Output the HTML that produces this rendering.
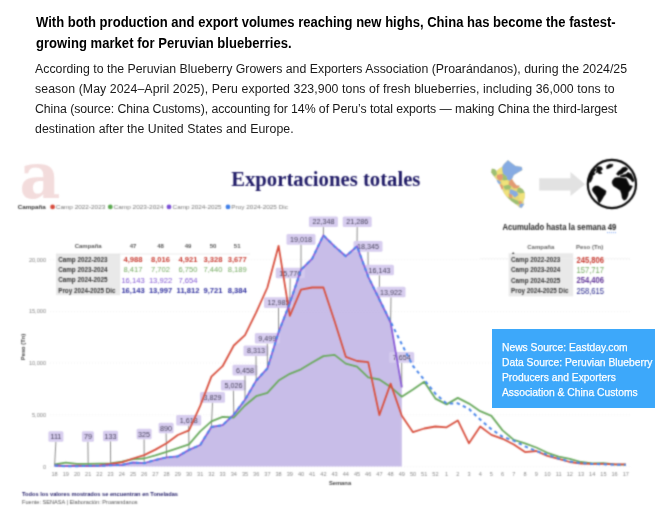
<!DOCTYPE html>
<html lang="en"><head><meta charset="utf-8"><title>Peruvian blueberries</title>
<style>
html,body{margin:0;padding:0;background:#fff;}
body{width:655px;height:523px;position:relative;overflow:hidden;font-family:"Liberation Sans",sans-serif;}
.h{position:absolute;left:36.2px;top:12.3px;margin:0;font-size:14px;font-weight:bold;line-height:20.45px;color:#000;white-space:nowrap;transform-origin:0 0;transform:scaleX(0.930);}
.p{position:absolute;left:35px;top:59.2px;margin:0;font-size:12.3px;line-height:20px;color:#1a1a1a;white-space:nowrap;}
#chart{position:absolute;left:0;top:0;}
.box{position:absolute;left:492px;top:328.8px;width:163px;height:78.8px;background:#3da8fa;color:#fff;}
.box p{position:absolute;left:10.4px;top:10.9px;margin:0;font-size:11px;line-height:15.05px;white-space:nowrap;transform-origin:0 0;transform:scaleX(0.936);-webkit-text-stroke:0.25px #fff;}
</style></head><body>
<p class="h"><span style="letter-spacing:0.012px">With both production and export volumes reaching new highs, China has become the fastest-</span><br><span style="letter-spacing:0.045px">growing market for Peruvian blueberries.</span></p>
<p class="p"><span style="letter-spacing:0.014px">According to the Peruvian Blueberry Growers and Exporters Association (Proarándanos), during the 2024/25</span><br><span style="letter-spacing:0.08px">season (May 2024–April 2025), Peru exported 323,900 tons of fresh blueberries, including 36,000 tons to</span><br><span style="letter-spacing:-0.064px">China (source: China Customs), accounting for 14% of Peru’s total exports — making China the third-largest</span><br><span style="letter-spacing:0.064px">destination after the United States and Europe.</span></p>
<svg id="chart" width="655" height="523" viewBox="0 0 655 523" font-family="Liberation Sans, sans-serif">
<defs><filter id="bl" x="0" y="140" width="655" height="383" filterUnits="userSpaceOnUse" color-interpolation-filters="sRGB"><feConvolveMatrix order="5" kernelMatrix="0.00014 0.00247 0.00648 0.00247 0.00014 0.00247 0.04462 0.11705 0.04462 0.00247 0.00648 0.11705 0.30708 0.11705 0.00648 0.00247 0.04462 0.11705 0.04462 0.00247 0.00014 0.00247 0.00648 0.00247 0.00014" edgeMode="duplicate" preserveAlpha="false"/></filter></defs>
<g filter="url(#bl)">
<text x="19.6" y="197.6" font-family="DejaVu Serif, serif" font-weight="bold" font-size="63" fill="#f3dcdc">a</text>
<text x="231.2" y="185.6" font-family="Liberation Serif, serif" font-weight="bold" font-size="20" fill="#1f1a66" textLength="189.2" lengthAdjust="spacingAndGlyphs">Exportaciones totales</text>
<g><polygon points="507.9,160.2 511.4,163.0 515.4,165.9 521.7,167.0 522.3,169.9 518.3,172.2 513.7,175.1 511.9,179.1 513.7,181.9 516.5,185.4 519.4,185.7 520.0,187.7 522.8,189.4 524.6,192.8 524.6,197.4 523.4,200.9 524.0,204.3 521.7,207.8 519.4,207.2 516.0,204.3 511.4,200.9 506.8,196.9 503.3,191.7 500.5,186.0 497.6,180.8 494.2,176.8 491.3,172.2 491.9,168.8 494.7,169.3 496.5,171.1 499.3,168.8 502.2,167.0 503.9,164.2 506.2,161.9" fill="#e6d877" stroke="#d9d9d9" stroke-width="0.6"/><polygon points="507.9,160.2 511.4,163.0 515.4,165.9 521.7,167.0 522.3,169.9 518.3,172.2 513.7,175.1 511.9,179.1 509.7,180.8 507.4,179.7 506.2,176.2 503.3,173.9 502.2,169.9 502.2,167.0 503.9,164.2 506.2,161.9" fill="#86abe2"/><polygon points="491.3,172.2 491.9,168.8 494.7,169.3 496.5,171.1 497.0,173.9 494.7,176.2 493.0,175.1" fill="#9dbf72"/><polygon points="496.5,171.1 499.3,168.8 502.2,167.0 502.2,169.9 501.6,173.9 498.8,175.1 497.0,173.9" fill="#f0e27a"/><polygon points="497.0,175.1 501.6,173.9 503.3,176.2 502.2,179.7 499.3,180.8 497.0,177.9" fill="#e39a72"/><polygon points="501.6,173.9 503.3,173.9 506.2,176.2 507.4,179.7 504.5,180.8 502.2,179.7 503.3,176.2" fill="#9dbf72"/><polygon points="496.5,179.7 499.3,180.8 501.1,183.1 499.3,184.2 497.6,182.5" fill="#86abe2"/><polygon points="509.7,180.8 511.9,179.1 513.7,181.9 516.5,185.4 519.4,185.7 517.7,188.3 513.7,188.3 511.4,186.0 508.5,184.8" fill="#e39a72"/><polygon points="502.2,180.8 507.4,180.2 508.5,184.8 505.6,186.5 502.2,184.8" fill="#f0e27a"/><polygon points="499.3,184.2 502.2,184.8 503.3,188.3 501.6,189.4 500.5,186.5" fill="#e39a72"/><polygon points="503.3,186.0 508.5,184.8 511.4,186.5 509.7,189.4 505.1,189.4" fill="#9dbf72"/><polygon points="517.7,188.3 520.0,187.7 522.8,189.4 524.6,192.8 520.6,193.4 517.1,191.7" fill="#9dbf72"/><polygon points="511.4,189.4 517.1,191.7 518.3,195.1 514.8,197.4 511.9,194.6" fill="#86abe2"/><polygon points="520.6,193.4 524.6,192.8 524.6,197.4 523.4,200.9 520.0,200.3 518.8,196.3" fill="#f0e27a"/><polygon points="503.3,191.7 507.9,190.6 509.7,194.0 507.4,196.9 505.1,194.6" fill="#f0e27a"/><polygon points="508.5,193.4 511.9,194.6 512.5,198.0 509.7,198.6" fill="#e39a72"/><polygon points="507.4,196.9 512.5,198.6 518.3,200.9 519.4,204.3 516.0,204.3 511.4,200.9" fill="#9dbf72"/><polygon points="519.4,204.3 521.7,203.2 524.0,204.3 521.7,207.8 519.4,207.2" fill="#86abe2"/><polygon points="518.3,200.9 521.7,201.4 521.7,203.2 519.4,204.3" fill="#e39a72"/><polygon points="509.7,189.4 511.9,189.4 511.9,194.6 509.7,194.0" fill="#86abe2"/></g>
<polygon points="539.2,178.2 570.5,178.2 570.5,172.1 585.1,184.3 570.5,196 570.5,190.4 539.2,190.4" fill="#e2e2e2"/>
<g><circle cx="611.9" cy="184" r="24.1" fill="#fff" stroke="#0a0a0a" stroke-width="2.2"/><path d="M592.9 187.7 L595.2 186.0 L598.1 186.0 L600.9 187.7 L603.8 189.4 L606.1 191.1 L605.5 194.0 L603.8 196.3 L602.1 199.2 L600.4 202.0 L599.2 203.2 L598.1 200.9 L597.5 198.0 L595.8 195.2 L593.5 192.3 L592.3 190.0Z M612.4 180.8 L614.7 177.9 L618.7 177.4 L622.2 177.9 L626.2 178.5 L627.9 182.0 L629.6 185.4 L632.5 186.0 L630.8 189.4 L628.5 192.3 L627.9 195.7 L626.2 199.2 L623.9 200.3 L622.2 198.0 L621.6 194.0 L620.4 190.6 L616.4 187.7 L613.5 186.0 L612.1 183.1Z M588.9 179.7 L590.0 175.6 L591.8 172.2 L594.6 168.8 L596.3 169.3 L594.0 172.2 L595.2 173.9 L592.9 175.6 L592.3 178.5 L590.6 182.0 L589.5 182.5Z M596.3 167.6 L598.1 166.5 L601.5 167.0 L602.6 169.3 L600.4 171.1 L602.1 173.4 L599.2 173.9 L597.5 172.2 L595.8 172.8 L596.9 169.9Z M606.7 165.9 L609.5 164.2 L613.0 164.4 L612.4 166.5 L609.0 168.2 L606.7 168.8Z M616.4 173.9 L618.1 171.6 L620.4 169.9 L622.7 167.6 L625.6 167.0 L627.9 168.8 L626.2 171.1 L623.9 172.2 L622.2 173.9 L619.9 174.5 L618.1 175.6Z M619.9 175.9 L623.3 174.7 L626.2 173.9 L627.9 172.2 L631.3 173.9 L633.0 177.4 L634.2 180.8 L632.5 182.0 L630.8 179.7 L628.5 177.9 L626.2 176.8 L623.3 177.0 L621.0 176.8Z" fill="#0a0a0a" stroke="#0a0a0a" stroke-width="0.5" stroke-linejoin="round"/></g>
<text x="17.8" y="209" font-size="5.8" font-weight="bold" fill="#333" textLength="28" lengthAdjust="spacingAndGlyphs">Campaña</text><circle cx="52.6" cy="206.9" r="2.4" fill="#d64a3b"/><text x="55.8" y="209" font-size="5.8" fill="#777" textLength="49.5" lengthAdjust="spacingAndGlyphs">Camp 2022-2023</text><circle cx="110.3" cy="206.9" r="2.4" fill="#5aa84f"/><text x="113.5" y="209" font-size="5.8" fill="#777" textLength="50" lengthAdjust="spacingAndGlyphs">Camp 2023-2024</text><circle cx="169" cy="206.9" r="2.4" fill="#7b4fd6"/><text x="172.6" y="209" font-size="5.8" fill="#777" textLength="49" lengthAdjust="spacingAndGlyphs">Camp 2024-2025</text><circle cx="228" cy="206.9" r="2.4" fill="#3f7fe8"/><text x="231.3" y="209" font-size="5.8" fill="#777" textLength="56.7" lengthAdjust="spacingAndGlyphs">Proy 2024-2025 Dic</text>
<line x1="50" x2="632" y1="466.6" y2="466.6" stroke="#ececec" stroke-width="0.7" stroke-dasharray="1 2"/><line x1="50" x2="632" y1="414.9" y2="414.9" stroke="#ececec" stroke-width="0.7" stroke-dasharray="1 2"/><line x1="50" x2="632" y1="363.1" y2="363.1" stroke="#ececec" stroke-width="0.7" stroke-dasharray="1 2"/><line x1="50" x2="632" y1="311.4" y2="311.4" stroke="#ececec" stroke-width="0.7" stroke-dasharray="1 2"/><line x1="50" x2="632" y1="259.6" y2="259.6" stroke="#ececec" stroke-width="0.7" stroke-dasharray="1 2"/>
<g font-size="5.6" fill="#888"><text x="54.6" y="476" text-anchor="middle">18</text><text x="65.8" y="476" text-anchor="middle">19</text><text x="77.0" y="476" text-anchor="middle">20</text><text x="88.2" y="476" text-anchor="middle">21</text><text x="99.4" y="476" text-anchor="middle">22</text><text x="110.6" y="476" text-anchor="middle">23</text><text x="121.8" y="476" text-anchor="middle">24</text><text x="133.0" y="476" text-anchor="middle">25</text><text x="144.2" y="476" text-anchor="middle">26</text><text x="155.4" y="476" text-anchor="middle">27</text><text x="166.6" y="476" text-anchor="middle">28</text><text x="177.8" y="476" text-anchor="middle">29</text><text x="189.0" y="476" text-anchor="middle">30</text><text x="200.2" y="476" text-anchor="middle">31</text><text x="211.4" y="476" text-anchor="middle">32</text><text x="222.6" y="476" text-anchor="middle">33</text><text x="233.8" y="476" text-anchor="middle">34</text><text x="245.0" y="476" text-anchor="middle">35</text><text x="256.2" y="476" text-anchor="middle">36</text><text x="267.4" y="476" text-anchor="middle">37</text><text x="278.6" y="476" text-anchor="middle">38</text><text x="289.8" y="476" text-anchor="middle">39</text><text x="301.0" y="476" text-anchor="middle">40</text><text x="312.2" y="476" text-anchor="middle">41</text><text x="323.4" y="476" text-anchor="middle">42</text><text x="334.6" y="476" text-anchor="middle">43</text><text x="345.8" y="476" text-anchor="middle">44</text><text x="357.0" y="476" text-anchor="middle">45</text><text x="368.2" y="476" text-anchor="middle">46</text><text x="379.4" y="476" text-anchor="middle">47</text><text x="390.6" y="476" text-anchor="middle">48</text><text x="401.8" y="476" text-anchor="middle">49</text><text x="413.0" y="476" text-anchor="middle">50</text><text x="424.2" y="476" text-anchor="middle">51</text><text x="435.4" y="476" text-anchor="middle">52</text><text x="446.6" y="476" text-anchor="middle">1</text><text x="457.8" y="476" text-anchor="middle">2</text><text x="469.0" y="476" text-anchor="middle">3</text><text x="480.2" y="476" text-anchor="middle">4</text><text x="491.4" y="476" text-anchor="middle">5</text><text x="502.6" y="476" text-anchor="middle">6</text><text x="513.8" y="476" text-anchor="middle">7</text><text x="525.0" y="476" text-anchor="middle">8</text><text x="536.2" y="476" text-anchor="middle">9</text><text x="547.4" y="476" text-anchor="middle">10</text><text x="558.6" y="476" text-anchor="middle">11</text><text x="569.8" y="476" text-anchor="middle">12</text><text x="581.0" y="476" text-anchor="middle">13</text><text x="592.2" y="476" text-anchor="middle">14</text><text x="603.4" y="476" text-anchor="middle">15</text><text x="614.6" y="476" text-anchor="middle">16</text><text x="625.8" y="476" text-anchor="middle">17</text><text x="46" y="468.6" text-anchor="end">0</text><text x="46" y="416.9" text-anchor="end">5,000</text><text x="46" y="365.1" text-anchor="end">10,000</text><text x="46" y="313.4" text-anchor="end">15,000</text><text x="46" y="261.6" text-anchor="end">20,000</text></g>
<text x="340" y="484.5" text-anchor="middle" font-size="5.8" font-weight="bold" fill="#444">Semana</text>
<text transform="translate(25,347) rotate(-90)" text-anchor="middle" font-size="5.8" font-weight="bold" fill="#444">Peso (Tn)</text>
<path d="M54.6,466.6 L54.6,465.5 L65.8,466.2 L77.0,466.2 L88.2,465.8 L99.4,465.8 L110.6,465.2 L121.8,465.0 L133.0,462.5 L144.2,463.2 L155.4,460.0 L166.6,457.4 L177.8,456.4 L189.0,449.9 L200.2,445.0 L211.4,427.0 L222.6,425.2 L233.8,414.6 L245.0,399.8 L256.2,380.6 L267.4,368.3 L278.6,332.2 L289.8,303.3 L301.0,269.8 L312.2,258.6 L323.4,235.3 L334.6,246.4 L345.8,256.2 L357.0,246.3 L368.2,276.7 L379.4,299.5 L390.6,322.5 L401.8,387.4 L401.8,466.6 Z" fill="#c4b8e6" fill-opacity="0.93"/>
<line x1="55.9" y1="441.8" x2="54.6" y2="465.5" stroke="#8c8c8c" stroke-width="1"/><rect x="48.4" y="431.2" width="15" height="10.6" rx="1.5" fill="#d5cbee" fill-opacity="0.96"/><text x="55.9" y="439.0" text-anchor="middle" font-size="7.2" fill="#48435c">111</text>
<line x1="87.9" y1="441.8" x2="88.2" y2="465.8" stroke="#8c8c8c" stroke-width="1"/><rect x="81.9" y="431.2" width="12" height="10.6" rx="1.5" fill="#d5cbee" fill-opacity="0.96"/><text x="87.9" y="439.0" text-anchor="middle" font-size="7.2" fill="#48435c">79</text>
<line x1="110.5" y1="441.3" x2="110.6" y2="465.2" stroke="#8c8c8c" stroke-width="1"/><rect x="103.0" y="430.7" width="15" height="10.6" rx="1.5" fill="#d5cbee" fill-opacity="0.96"/><text x="110.5" y="438.5" text-anchor="middle" font-size="7.2" fill="#48435c">133</text>
<line x1="144.1" y1="439.3" x2="144.2" y2="463.2" stroke="#8c8c8c" stroke-width="1"/><rect x="136.6" y="428.7" width="15" height="10.6" rx="1.5" fill="#d5cbee" fill-opacity="0.96"/><text x="144.1" y="436.5" text-anchor="middle" font-size="7.2" fill="#48435c">325</text>
<line x1="166.1" y1="433.3" x2="166.6" y2="457.4" stroke="#8c8c8c" stroke-width="1"/><rect x="158.6" y="422.7" width="15" height="10.6" rx="1.5" fill="#d5cbee" fill-opacity="0.96"/><text x="166.1" y="430.5" text-anchor="middle" font-size="7.2" fill="#48435c">890</text>
<line x1="188.7" y1="425.6" x2="189.0" y2="449.9" stroke="#8c8c8c" stroke-width="1"/><rect x="176.2" y="415.0" width="25" height="10.6" rx="1.5" fill="#d5cbee" fill-opacity="0.96"/><text x="188.7" y="422.8" text-anchor="middle" font-size="7.2" fill="#48435c">1,618</text>
<line x1="212.5" y1="402.7" x2="211.4" y2="427.0" stroke="#8c8c8c" stroke-width="1"/><rect x="200.0" y="392.1" width="25" height="10.6" rx="1.5" fill="#d5cbee" fill-opacity="0.96"/><text x="212.5" y="399.9" text-anchor="middle" font-size="7.2" fill="#48435c">3,829</text>
<line x1="233.4" y1="390.5" x2="233.8" y2="414.6" stroke="#8c8c8c" stroke-width="1"/><rect x="220.9" y="379.9" width="25" height="10.6" rx="1.5" fill="#d5cbee" fill-opacity="0.96"/><text x="233.4" y="387.7" text-anchor="middle" font-size="7.2" fill="#48435c">5,026</text>
<line x1="245.0" y1="375.4" x2="245.0" y2="399.8" stroke="#8c8c8c" stroke-width="1"/><rect x="232.5" y="364.8" width="25" height="10.6" rx="1.5" fill="#d5cbee" fill-opacity="0.96"/><text x="245.0" y="372.6" text-anchor="middle" font-size="7.2" fill="#48435c">6,458</text>
<line x1="256.0" y1="356.1" x2="256.2" y2="380.6" stroke="#8c8c8c" stroke-width="1"/><rect x="243.5" y="345.5" width="25" height="10.6" rx="1.5" fill="#d5cbee" fill-opacity="0.96"/><text x="256.0" y="353.3" text-anchor="middle" font-size="7.2" fill="#48435c">8,313</text>
<line x1="267.3" y1="343.6" x2="267.4" y2="368.3" stroke="#8c8c8c" stroke-width="1"/><rect x="254.8" y="333.0" width="25" height="10.6" rx="1.5" fill="#d5cbee" fill-opacity="0.96"/><text x="267.3" y="340.8" text-anchor="middle" font-size="7.2" fill="#48435c">9,499</text>
<line x1="278.5" y1="307.9" x2="278.6" y2="332.2" stroke="#8c8c8c" stroke-width="1"/><rect x="264.0" y="297.3" width="29" height="10.6" rx="1.5" fill="#d5cbee" fill-opacity="0.96"/><text x="278.5" y="305.1" text-anchor="middle" font-size="7.2" fill="#48435c">12,985</text>
<line x1="290.2" y1="278.3" x2="289.8" y2="303.3" stroke="#8c8c8c" stroke-width="1"/><rect x="275.7" y="267.7" width="29" height="10.6" rx="1.5" fill="#d5cbee" fill-opacity="0.96"/><text x="290.2" y="275.5" text-anchor="middle" font-size="7.2" fill="#48435c">15,776</text>
<line x1="301.0" y1="244.7" x2="301.0" y2="269.8" stroke="#8c8c8c" stroke-width="1"/><rect x="286.5" y="234.1" width="29" height="10.6" rx="1.5" fill="#d5cbee" fill-opacity="0.96"/><text x="301.0" y="241.9" text-anchor="middle" font-size="7.2" fill="#48435c">19,018</text>
<line x1="323.4" y1="227.1" x2="323.4" y2="235.3" stroke="#8c8c8c" stroke-width="1"/><rect x="308.9" y="216.5" width="29" height="10.6" rx="1.5" fill="#d5cbee" fill-opacity="0.96"/><text x="323.4" y="224.3" text-anchor="middle" font-size="7.2" fill="#48435c">22,348</text>
<line x1="357.2" y1="227.1" x2="357.0" y2="246.3" stroke="#8c8c8c" stroke-width="1"/><rect x="342.7" y="216.5" width="29" height="10.6" rx="1.5" fill="#d5cbee" fill-opacity="0.96"/><text x="357.2" y="224.3" text-anchor="middle" font-size="7.2" fill="#48435c">21,286</text>
<line x1="368.0" y1="251.7" x2="368.2" y2="276.7" stroke="#8c8c8c" stroke-width="1"/><rect x="353.5" y="241.1" width="29" height="10.6" rx="1.5" fill="#d5cbee" fill-opacity="0.96"/><text x="368.0" y="248.9" text-anchor="middle" font-size="7.2" fill="#48435c">18,345</text>
<line x1="379.4" y1="275.3" x2="379.4" y2="299.5" stroke="#8c8c8c" stroke-width="1"/><rect x="364.9" y="264.7" width="29" height="10.6" rx="1.5" fill="#d5cbee" fill-opacity="0.96"/><text x="379.4" y="272.5" text-anchor="middle" font-size="7.2" fill="#48435c">16,143</text>
<line x1="391.0" y1="297.3" x2="390.6" y2="322.5" stroke="#8c8c8c" stroke-width="1"/><rect x="376.5" y="286.7" width="29" height="10.6" rx="1.5" fill="#d5cbee" fill-opacity="0.96"/><text x="391.0" y="294.5" text-anchor="middle" font-size="7.2" fill="#48435c">13,922</text>
<line x1="401.7" y1="362.7" x2="401.8" y2="387.4" stroke="#8c8c8c" stroke-width="1"/><rect x="389.2" y="352.1" width="25" height="10.6" rx="1.5" fill="#d5cbee" fill-opacity="0.96"/><text x="401.7" y="359.9" text-anchor="middle" font-size="7.2" fill="#48435c">7,654</text>

<polyline points="54.6,464.5 65.8,462.6 77.0,463.9 88.2,463.9 99.4,463.6 110.6,463.3 121.8,461.7 133.0,459.1 144.2,458.5 155.4,455.4 166.6,451.9 177.8,448.1 189.0,444.3 200.2,431.4 211.4,421.3 222.6,416.9 233.8,417.5 245.0,405.5 256.2,396.2 267.4,392.9 278.6,380.6 289.8,373.8 301.0,369.3 312.2,362.6 323.4,356.1 334.6,354.9 345.8,363.6 357.0,366.6 368.2,377.3 379.4,379.5 390.6,386.9 401.8,396.7 413.0,389.6 424.2,381.8 435.4,398.6 446.6,404.4 457.8,397.9 469.0,403.6 480.2,411.2 491.4,415.9 502.6,430.4 513.8,439.9 525.0,443.3 536.2,447.5 547.4,452.8 558.6,456.7 569.8,458.9 581.0,462.0 592.2,463.5 603.4,463.2 614.6,464.3 625.8,464.7" fill="none" stroke="#6aaa5e" stroke-width="1.8" stroke-linejoin="round"/>
<polyline points="54.6,465.3 65.8,466.0 77.0,465.7 88.2,466.0 99.4,465.4 110.6,463.9 121.8,462.3 133.0,458.5 144.2,455.1 155.4,449.6 166.6,443.2 177.8,435.0 189.0,430.4 200.2,405.9 211.4,376.6 222.6,366.2 233.8,345.5 245.0,335.2 256.2,312.4 267.4,287.5 278.6,245.8 289.8,315.9 301.0,289.7 312.2,287.5 323.4,287.5 334.6,321.2 345.8,356.8 357.0,361.0 368.2,362.1 379.4,415.0 390.6,383.6 401.8,415.7 413.0,432.2 424.2,428.5 435.4,426.5 446.6,427.3 457.8,420.4 469.0,443.3 480.2,426.5 491.4,434.9 502.6,438.8 513.8,444.5 525.0,452.1 536.2,451.0 547.4,455.9 558.6,458.9 569.8,462.0 581.0,463.5 592.2,463.9 603.4,463.9 614.6,464.3 625.8,464.3" fill="none" stroke="#d8503f" stroke-width="1.8" stroke-linejoin="round"/>
<polyline points="54.6,465.5 65.8,466.2 77.0,466.2 88.2,465.8 99.4,465.8 110.6,465.2 121.8,465.0 133.0,462.5 144.2,463.2 155.4,460.0 166.6,457.4 177.8,456.4 189.0,449.9 200.2,445.0 211.4,427.0 222.6,425.2 233.8,414.6 245.0,399.8 256.2,380.6 267.4,368.3 278.6,332.2 289.8,303.3 301.0,269.8 312.2,258.6 323.4,235.3 334.6,246.4 345.8,256.2 357.0,246.3 368.2,276.7 379.4,299.5 390.6,322.5 401.8,387.4" fill="none" stroke="#8a5cd6" stroke-width="1.8" stroke-linejoin="round"/>
<polyline points="54.6,465.5 65.8,466.2 77.0,466.2 88.2,465.8 99.4,465.8 110.6,465.2 121.8,465.0 133.0,462.5 144.2,463.2 155.4,460.0 166.6,457.4 177.8,456.4 189.0,449.9 200.2,445.0 211.4,427.0 222.6,425.2 233.8,414.6 245.0,399.8 256.2,380.6 267.4,368.3 278.6,332.2 289.8,303.3 301.0,269.8 312.2,258.6 323.4,235.3 334.6,246.4 345.8,256.2 357.0,246.3 368.2,276.7 379.4,299.5 390.6,321.7 401.8,344.3 413.0,366.0 424.2,379.8 435.4,393.7 446.6,403.6 457.8,403.3 469.0,409.0 480.2,419.6 491.4,429.2 502.6,436.8 513.8,440.6 525.0,446.4 536.2,451.0 547.4,454.8 558.6,458.6 569.8,461.6 581.0,463.2 592.2,463.9 603.4,464.3 614.6,464.7 625.8,464.7" fill="none" stroke="#4a86ea" stroke-width="2" stroke-dasharray="3.4 3.4" stroke-linejoin="round"/>
<rect x="56" y="254" width="64.2" height="41.2" fill="#e9e9e9"/><line x1="56" x2="250" y1="254" y2="254" stroke="#ddd" stroke-width="0.6"/><text x="88.2" y="248" text-anchor="middle" font-size="6" font-weight="bold" fill="#555">Campaña</text><text x="133" y="248" text-anchor="middle" font-size="6" font-weight="bold" fill="#555">47</text><text x="160.5" y="248" text-anchor="middle" font-size="6" font-weight="bold" fill="#555">48</text><text x="188" y="248" text-anchor="middle" font-size="6" font-weight="bold" fill="#555">49</text><text x="213" y="248" text-anchor="middle" font-size="6" font-weight="bold" fill="#555">50</text><text x="237.2" y="248" text-anchor="middle" font-size="6" font-weight="bold" fill="#555">51</text><text x="58.2" y="261.5" font-size="6.3" font-weight="bold" fill="#333">Camp 2022-2023</text><text x="133" y="261.8" text-anchor="middle" font-size="7.6" font-weight="bold" fill="#c83a30">4,988</text><text x="160.5" y="261.8" text-anchor="middle" font-size="7.6" font-weight="bold" fill="#c83a30">8,016</text><text x="188" y="261.8" text-anchor="middle" font-size="7.6" font-weight="bold" fill="#c83a30">4,921</text><text x="213" y="261.8" text-anchor="middle" font-size="7.6" font-weight="bold" fill="#c83a30">3,328</text><text x="237.2" y="261.8" text-anchor="middle" font-size="7.6" font-weight="bold" fill="#c83a30">3,677</text><text x="58.2" y="271.9" font-size="6.3" font-weight="bold" fill="#333">Camp 2023-2024</text><text x="133" y="272.2" text-anchor="middle" font-size="7.6" font-weight="normal" fill="#72a95e">8,417</text><text x="160.5" y="272.2" text-anchor="middle" font-size="7.6" font-weight="normal" fill="#72a95e">7,702</text><text x="188" y="272.2" text-anchor="middle" font-size="7.6" font-weight="normal" fill="#72a95e">6,750</text><text x="213" y="272.2" text-anchor="middle" font-size="7.6" font-weight="normal" fill="#72a95e">7,440</text><text x="237.2" y="272.2" text-anchor="middle" font-size="7.6" font-weight="normal" fill="#72a95e">8,189</text><text x="58.2" y="282.3" font-size="6.3" font-weight="bold" fill="#333">Camp 2024-2025</text><text x="133" y="282.6" text-anchor="middle" font-size="7.6" font-weight="normal" fill="#7d52d2">16,143</text><text x="160.5" y="282.6" text-anchor="middle" font-size="7.6" font-weight="normal" fill="#7d52d2">13,922</text><text x="188" y="282.6" text-anchor="middle" font-size="7.6" font-weight="normal" fill="#7d52d2">7,654</text><text x="58.2" y="292.6" font-size="6.3" font-weight="bold" fill="#333">Proy 2024-2025 Dic</text><text x="133" y="292.9" text-anchor="middle" font-size="7.6" font-weight="bold" fill="#2b2b9c">16,143</text><text x="160.5" y="292.9" text-anchor="middle" font-size="7.6" font-weight="bold" fill="#2b2b9c">13,997</text><text x="188" y="292.9" text-anchor="middle" font-size="7.6" font-weight="bold" fill="#2b2b9c">11,812</text><text x="213" y="292.9" text-anchor="middle" font-size="7.6" font-weight="bold" fill="#2b2b9c">9,721</text><text x="237.2" y="292.9" text-anchor="middle" font-size="7.6" font-weight="bold" fill="#2b2b9c">8,384</text>
<rect x="508.7" y="253.3" width="64.5" height="43" fill="#e9e9e9"/><line x1="480" x2="630" y1="258.6" y2="258.6" stroke="#efefef" stroke-width="0.7"/><text x="502.4" y="230.3" font-size="8.2" font-weight="bold" fill="#222" textLength="114" lengthAdjust="spacingAndGlyphs">Acumulado hasta la semana 49</text><line x1="607" x2="616.5" y1="232.6" y2="232.6" stroke="#5b8def" stroke-width="0.8" stroke-dasharray="1 1"/><text x="540.8" y="249" text-anchor="middle" font-size="6" font-weight="bold" fill="#666">Campaña</text><text x="589.6" y="249" text-anchor="middle" font-size="6" font-weight="bold" fill="#666">Peso (Tn)</text><path d="M511.8,254 l1.4,-2 l1.4,2z" fill="#444"/><text x="511" y="262.2" font-size="6.3" font-weight="bold" fill="#333">Camp 2022-2023</text><text x="604" y="262.8" text-anchor="end" font-size="8.8" font-weight="bold" fill="#c83a30" textLength="27.6" lengthAdjust="spacingAndGlyphs">245,806</text><text x="511" y="272.2" font-size="6.3" font-weight="bold" fill="#333">Camp 2023-2024</text><text x="604" y="272.8" text-anchor="end" font-size="8.8" font-weight="normal" fill="#72a95e" textLength="27.6" lengthAdjust="spacingAndGlyphs">157,717</text><text x="511" y="282.8" font-size="6.3" font-weight="bold" fill="#333">Camp 2024-2025</text><text x="604" y="283.4" text-anchor="end" font-size="8.8" font-weight="bold" fill="#5f3397" textLength="27.6" lengthAdjust="spacingAndGlyphs">254,406</text><text x="511" y="293.1" font-size="6.3" font-weight="bold" fill="#333">Proy 2024-2025 Dic</text><text x="604" y="293.7" text-anchor="end" font-size="8.8" font-weight="normal" fill="#23238a" textLength="27.6" lengthAdjust="spacingAndGlyphs">258,615</text>

<text x="22" y="495.7" font-size="5.8" font-weight="bold" fill="#1f1a66" textLength="156" lengthAdjust="spacingAndGlyphs">Todos los valores mostrados se encuentran en Toneladas</text>
<text x="22" y="503.8" font-size="5.8" fill="#555" textLength="115.6" lengthAdjust="spacingAndGlyphs">Fuente: SENASA | Elaboración: Proarandanos</text>
</g>
</svg>
<div class="box"><p>News Source: Eastday.com<br>Data Source: Peruvian Blueberry<br>Producers and Exporters<br>Association &amp; China Customs</p></div>
</body></html>
